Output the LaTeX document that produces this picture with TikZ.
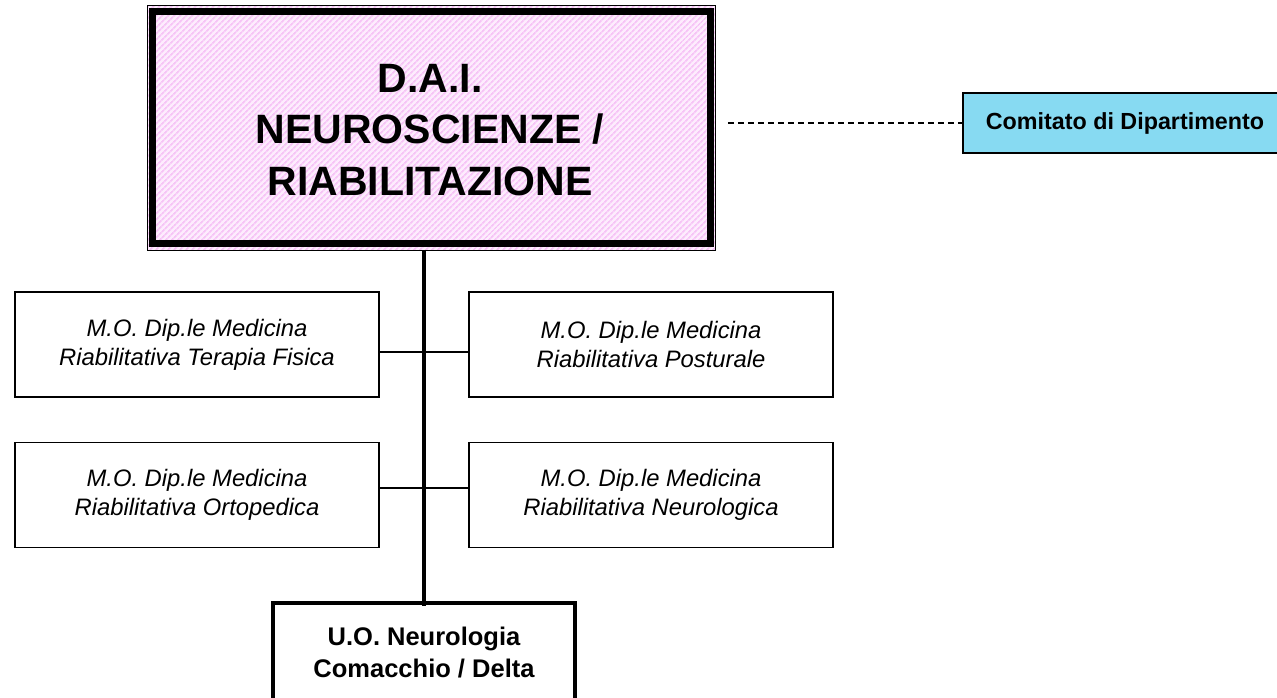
\documentclass[tikz,border=0pt]{standalone}
\usepackage{fontspec}
\setmainfont{Liberation Sans}
\usetikzlibrary{patterns.meta,calc}
\definecolor{pinkbg}{RGB}{253,236,253}
\definecolor{pinkline}{RGB}{246,196,246}
\definecolor{comblue}{RGB}{135,218,242}
\tikzset{
  mobox/.style={draw=black,line width=1.3pt,minimum width=364pt,minimum height=105pt,align=center,inner sep=0pt,
    font=\itshape\fontsize{23.8}{29}\selectfont},
  link/.style={line width=1.3pt},
}
\begin{document}
\begin{tikzpicture}[x=1pt,y=-1pt]
\useasboundingbox (0,0) rectangle (1277,697);
% main box
\node[draw=black,line width=1pt,minimum width=568pt,minimum height=245pt,inner sep=0pt,
  preaction={fill=pinkbg},pattern={Lines[angle=45,distance=4pt,line width=1.8pt]},pattern color=pinkline]
  (dai) at (431,127.5) {};
\draw[line width=7pt] ([shift={(6.5pt,-7pt)}]dai.north west) rectangle ([shift={(-5.5pt,7pt)}]dai.south east);
\node[align=center,font=\bfseries\fontsize{41}{51.5}\selectfont] (daitxt) at (430,130) {D.A.I.\\NEUROSCIENZE /\\RIABILITAZIONE};
% comitato
\node[draw=black,line width=1.5pt,fill=comblue,minimum width=324pt,minimum height=60pt,inner sep=0pt,
  font=\bfseries\fontsize{23.3}{27}\selectfont] (com) at (1125,123) {Comitato di Dipartimento};
\draw[line width=1.2pt,dash pattern=on 6pt off 4pt] ([xshift=12pt]dai.east |- com.west) -- (com.west);
% M.O. boxes
\node[mobox] (l1) at (197,344.5) {M.O. Dip.le Medicina\\Riabilitativa Terapia Fisica};
\node[mobox] (r1) at (651,344.5) {M.O. Dip.le Medicina\\Riabilitativa Posturale};
\node[mobox] (l2) at (197,495) {M.O. Dip.le Medicina\\Riabilitativa Ortopedica};
\node[mobox] (r2) at (651,495) {M.O. Dip.le Medicina\\Riabilitativa Neurologica};
% bottom box
\node[draw=black,line width=3.3pt,minimum width=302pt,minimum height=100pt,inner sep=0pt,align=center,
  font=\bfseries\fontsize{25.5}{32}\selectfont] (bot) at (424,653) {U.O. Neurologia\\Comacchio / Delta};
% connectors
\draw[link] ([yshift=-7.5pt]l1.east) -- ([yshift=-7.5pt]r1.west);
\draw[link] ([yshift=7pt]l2.east) -- ([yshift=7pt]r2.west);
\draw[line width=3.7pt] (bot.north |- dai.south) -- ([yshift=-5pt]bot.north);
\end{tikzpicture}
\end{document}
